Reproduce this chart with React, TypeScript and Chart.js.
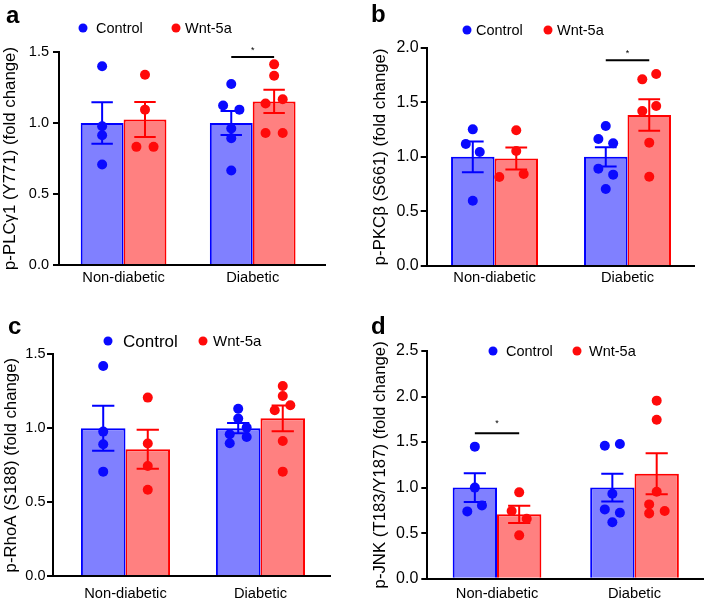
import React, { useEffect, useRef } from "react";
import { Chart, registerables } from "chart.js";

Chart.register(...registerables);

// ---------------- DATA ----------------
const categories = ["Non-diabetic", "Diabetic"];
const seriesNames = ["Control", "Wnt-5a"];

// a: p-PLCγ1
const plcTitle = "p-PLCγ1 (Y771) (fold change)";
const plcYMax = 1.5;
const plcControlMean = [1.0, 1.0];
const plcControlSem = [0.147, 0.085];
const plcWntMean = [1.025, 1.152];
const plcWntSem = [0.123, 0.082];
const plcControlNonDiab = [1.4, 0.977, 0.914, 0.708];
const plcControlNonDiabJitter = [0, 0, 0, 0];
const plcWntNonDiab = [1.34, 1.094, 0.832, 0.832];
const plcWntNonDiabJitter = [0, 0, -0.2, 0.2];
const plcControlDiab = [1.275, 1.123, 1.094, 0.961, 0.893, 0.666];
const plcControlDiabJitter = [0, -0.19, 0.19, 0, 0, 0];
const plcWntDiab = [1.413, 1.333, 1.137, 1.167, 0.93, 0.93];
const plcWntDiabJitter = [0, 0, -0.2, 0.2, -0.2, 0.2];
const plcSignificance = [{ group: 1, y: 1.465, label: "*" }];

// b: p-PKCβ
const pkcTitle = "p-PKCβ (S661) (fold change)";
const pkcYMax = 2.0;
const pkcControlMean = [1.0, 1.0];
const pkcControlSem = [0.14, 0.088];
const pkcWntMean = [0.985, 1.383];
const pkcWntSem = [0.1, 0.145];
const pkcControlNonDiab = [1.252, 1.118, 1.044, 0.598];
const pkcControlNonDiabJitter = [0, -0.16, 0.16, 0];
const pkcWntNonDiab = [1.243, 1.053, 0.815, 0.843];
const pkcWntNonDiabJitter = [0, 0, -0.39, 0.17];
const pkcControlDiab = [1.282, 1.163, 1.124, 0.892, 0.837, 0.705];
const pkcControlDiabJitter = [0, -0.17, 0.17, -0.17, 0.17, 0];
const pkcWntDiab = [1.71, 1.759, 1.42, 1.466, 1.13, 0.818];
const pkcWntDiabJitter = [-0.16, 0.16, -0.16, 0.16, 0, 0];
const pkcSignificance = [{ group: 1, y: 1.884, label: "*" }];

// c: p-RhoA
const rhoTitle = "p-RhoA (S188) (fold change)";
const rhoYMax = 1.5;
const rhoControlMean = [1.0, 1.0];
const rhoControlSem = [0.152, 0.035];
const rhoWntMean = [0.857, 1.067];
const rhoWntSem = [0.132, 0.087];
const rhoControlNonDiab = [1.421, 0.977, 0.891, 0.706];
const rhoControlNonDiabJitter = [0, 0, 0, 0];
const rhoWntNonDiab = [1.207, 0.896, 0.744, 0.584];
const rhoWntNonDiabJitter = [0, 0, 0, 0];
const rhoControlDiab = [1.132, 1.065, 1.004, 0.959, 0.941, 0.898];
const rhoControlDiabJitter = [0, 0, 0.19, -0.19, 0.19, -0.19];
const rhoWntDiab = [1.286, 1.218, 1.121, 1.155, 0.914, 0.706];
const rhoWntDiabJitter = [0, 0, -0.18, 0.17, 0, 0];
const rhoSignificance: { group: number; y: number; label: string }[] = [];

// d: p-JNK
const jnkTitle = "p-JNK (T183/Y187) (fold change)";
const jnkYMax = 2.5;
const jnkControlMean = [1.0, 1.0];
const jnkControlSem = [0.158, 0.153];
const jnkWntMean = [0.707, 1.152];
const jnkWntSem = [0.095, 0.225];
const jnkControlNonDiab = [1.45, 1.0, 0.739, 0.805];
const jnkControlNonDiabJitter = [0, 0, -0.17, 0.16];
const jnkWntNonDiab = [0.948, 0.743, 0.659, 0.476];
const jnkWntNonDiabJitter = [0, -0.17, 0.17, 0];
const jnkControlDiab = [1.46, 1.479, 0.933, 0.761, 0.725, 0.619];
const jnkControlDiabJitter = [-0.17, 0.17, 0, -0.17, 0.17, 0];
const jnkWntDiab = [1.955, 1.746, 0.955, 0.816, 0.743, 0.717];
const jnkWntDiabJitter = [0, 0, 0, -0.17, 0.18, -0.17];
const jnkSignificance = [{ group: 0, y: 1.596, label: "*" }];

// ---------------- STYLE ----------------
const FONT = "'Liberation Sans', Arial, Helvetica, sans-serif";
const barFill = ["#8080ff", "#ff8080"];
const strokeColor = ["#0000ff", "#ff0000"];
const pointColor = ["#0a0aff", "#ff0a0a"];

type Sig = { group: number; y: number; label: string };
type Panel = {
  letter: string;
  title: string;
  yMax: number;
  means: number[][];
  sems: number[][];
  points: number[][][];
  jitter: number[][][];
  sig: Sig[];
  left: number;
  top: number;
  pad: { left: number; top: number; right: number; bottom: number };
  yW: number;
  xH: number;
  xMin: number;
  xMax: number;
  groupPct: number;
  tickFont: number;
  yTickPad: number;
  xLabelPad: number;
  legendY: number;
  legend: { dot: number; text: number; size: number }[];
  letterX: number;
  letterY: number;
  starGap: number;
};

const panels: Panel[] = [
  {
    letter: "a",
    title: plcTitle,
    yMax: plcYMax,
    means: [plcControlMean, plcWntMean],
    sems: [plcControlSem, plcWntSem],
    points: [
      [plcControlNonDiab, plcControlDiab],
      [plcWntNonDiab, plcWntDiab],
    ],
    jitter: [
      [plcControlNonDiabJitter, plcControlDiabJitter],
      [plcWntNonDiabJitter, plcWntDiabJitter],
    ],
    sig: plcSignificance,
    left: 0,
    top: 0,
    pad: { left: 0, top: 52, right: 29, bottom: 0 },
    yW: 59,
    xH: 36,
    xMin: -0.5,
    xMax: 1.56,
    groupPct: 0.664,
    tickFont: 14.5,
    yTickPad: 4,
    xLabelPad: 4.3,
    legendY: 28,
    legend: [
      { dot: 83, text: 96, size: 14.5 },
      { dot: 176, text: 185, size: 14.5 },
    ],
    letterX: 6,
    letterY: 23,
    starGap: 9,
  },
  {
    letter: "b",
    title: pkcTitle,
    yMax: pkcYMax,
    means: [pkcControlMean, pkcWntMean],
    sems: [pkcControlSem, pkcWntSem],
    points: [
      [pkcControlNonDiab, pkcControlDiab],
      [pkcWntNonDiab, pkcWntDiab],
    ],
    jitter: [
      [pkcControlNonDiabJitter, pkcControlDiabJitter],
      [pkcWntNonDiabJitter, pkcWntDiabJitter],
    ],
    sig: pkcSignificance,
    left: 354,
    top: 0,
    pad: { left: 16, top: 47.7, right: 14, bottom: 0 },
    yW: 56.7,
    xH: 35,
    xMin: -0.51,
    xMax: 1.5,
    groupPct: 0.654,
    tickFont: 16,
    yTickPad: 2,
    xLabelPad: 3.3,
    legendY: 30,
    legend: [
      { dot: 113, text: 122, size: 14.5 },
      { dot: 194, text: 203, size: 14.5 },
    ],
    letterX: 17,
    letterY: 22,
    starGap: 10,
  },
  {
    letter: "c",
    title: rhoTitle,
    yMax: rhoYMax,
    means: [rhoControlMean, rhoWntMean],
    sems: [rhoControlSem, rhoWntSem],
    points: [
      [rhoControlNonDiab, rhoControlDiab],
      [rhoWntNonDiab, rhoWntDiab],
    ],
    jitter: [
      [rhoControlNonDiabJitter, rhoControlDiabJitter],
      [rhoWntNonDiabJitter, rhoWntDiabJitter],
    ],
    sig: rhoSignificance,
    left: 0,
    top: 301,
    pad: { left: 1, top: 53.3, right: 24, bottom: 0 },
    yW: 52,
    xH: 26,
    xMin: -0.537,
    xMax: 1.515,
    groupPct: 0.66,
    tickFont: 14.5,
    yTickPad: 1.5,
    xLabelPad: 9.2,
    legendY: 40,
    legend: [
      { dot: 108, text: 123, size: 17 },
      { dot: 203, text: 213, size: 15 },
    ],
    letterX: 8,
    letterY: 33,
    starGap: 10,
  },
  {
    letter: "d",
    title: jnkTitle,
    yMax: jnkYMax,
    means: [jnkControlMean, jnkWntMean],
    sems: [jnkControlSem, jnkWntSem],
    points: [
      [jnkControlNonDiab, jnkControlDiab],
      [jnkWntNonDiab, jnkWntDiab],
    ],
    jitter: [
      [jnkControlNonDiabJitter, jnkControlDiabJitter],
      [jnkWntNonDiabJitter, jnkWntDiabJitter],
    ],
    sig: jnkSignificance,
    left: 354,
    top: 301,
    pad: { left: 16, top: 50, right: 0, bottom: 0 },
    yW: 57.3,
    xH: 23.3,
    xMin: -0.507,
    xMax: 1.498,
    groupPct: 0.645,
    tickFont: 16,
    yTickPad: 3,
    xLabelPad: 6.5,
    legendY: 50,
    legend: [
      { dot: 139, text: 152, size: 14.5 },
      { dot: 223, text: 235, size: 14.5 },
    ],
    letterX: 17,
    letterY: 33,
    starGap: 13,
  },
];

function makeConfig(p: Panel): any {
  const barW = p.groupPct / 2;
  const scatterData = (s: number) => {
    const out: { x: number; y: number }[] = [];
    p.points[s].forEach((vals, g) => {
      vals.forEach((y, k) => {
        const center = g + (s === 0 ? -1 : 1) * (p.groupPct / 4);
        out.push({ x: center + p.jitter[s][g][k] * barW, y });
      });
    });
    return out;
  };

  const overlay = {
    id: "overlay",
    afterDatasetDraw(chart: any, args: any) {
      const meta = args.meta;
      if (meta.type !== "bar") return;
      const s = args.index - 2;
      const ctx = chart.ctx;
      const yScale = chart.scales.y;
      ctx.save();
      ctx.strokeStyle = strokeColor[s];
      ctx.lineWidth = 2;
      meta.data.forEach((el: any, j: number) => {
        const m = p.means[s][j];
        const e = p.sems[s][j];
        const yt = yScale.getPixelForValue(m + e);
        const yb = yScale.getPixelForValue(m - e);
        const cap = el.width / 4;
        ctx.beginPath();
        ctx.moveTo(el.x, yb);
        ctx.lineTo(el.x, yt);
        ctx.moveTo(el.x - cap, yt);
        ctx.lineTo(el.x + cap, yt);
        ctx.moveTo(el.x - cap, yb);
        ctx.lineTo(el.x + cap, yb);
        ctx.stroke();
      });
      ctx.restore();
    },
    afterDraw(chart: any) {
      const ctx = chart.ctx;
      const yScale = chart.scales.y;
      ctx.save();
      p.sig.forEach((sg) => {
        const a = chart.getDatasetMeta(2).data[sg.group];
        const b = chart.getDatasetMeta(3).data[sg.group];
        const y = yScale.getPixelForValue(sg.y);
        ctx.strokeStyle = "#000";
        ctx.lineWidth = 2;
        ctx.beginPath();
        ctx.moveTo(a.x, y);
        ctx.lineTo(b.x, y);
        ctx.stroke();
        const fs = 9;
        ctx.font = `${fs}px ${FONT}`;
        ctx.fillStyle = "#000";
        ctx.textAlign = "center";
        ctx.textBaseline = "alphabetic";
        ctx.fillText(sg.label, (a.x + b.x) / 2, y - p.starGap + 0.58 * fs);
      });
      p.legend.forEach((lg, s) => {
        ctx.fillStyle = pointColor[s];
        ctx.beginPath();
        ctx.arc(lg.dot, p.legendY, 4.5, 0, Math.PI * 2);
        ctx.fill();
        ctx.fillStyle = "#000";
        ctx.font = `${lg.size}px ${FONT}`;
        ctx.textAlign = "left";
        ctx.textBaseline = "middle";
        ctx.fillText(seriesNames[s], lg.text, p.legendY + 1);
      });
      ctx.fillStyle = "#000";
      ctx.font = `bold 24px ${FONT}`;
      ctx.textAlign = "left";
      ctx.textBaseline = "alphabetic";
      ctx.fillText(p.letter, p.letterX, p.letterY);
      ctx.restore();
    },
  };

  return {
    type: "bar",
    data: {
      datasets: [
        {
          type: "scatter",
          label: seriesNames[0],
          data: scatterData(0),
          pointRadius: 5,
          pointBorderWidth: 0,
          pointBackgroundColor: pointColor[0],
          backgroundColor: pointColor[0],
          showLine: false,
        },
        {
          type: "scatter",
          label: seriesNames[1],
          data: scatterData(1),
          pointRadius: 5,
          pointBorderWidth: 0,
          pointBackgroundColor: pointColor[1],
          backgroundColor: pointColor[1],
          showLine: false,
        },
        {
          type: "bar",
          label: seriesNames[0],
          data: p.means[0].map((y, g) => ({ x: g, y })),
          backgroundColor: barFill[0],
          borderColor: strokeColor[0],
          borderWidth: 2,
          categoryPercentage: p.groupPct,
          barPercentage: 1,
        },
        {
          type: "bar",
          label: seriesNames[1],
          data: p.means[1].map((y, g) => ({ x: g, y })),
          backgroundColor: barFill[1],
          borderColor: strokeColor[1],
          borderWidth: 2,
          categoryPercentage: p.groupPct,
          barPercentage: 1,
        },
      ],
    },
    options: {
      responsive: false,
      animation: false,
      events: [],
      layout: { padding: p.pad },
      plugins: {
        legend: { display: false },
        tooltip: { enabled: false },
        title: { display: false },
      },
      scales: {
        x: {
          type: "linear",
          min: p.xMin,
          max: p.xMax,
          offset: false,
          grid: { display: false, drawTicks: false, offset: false },
          border: { display: true, color: "#000", width: 2 },
          ticks: {
            autoSkip: false,
            maxRotation: 0,
            padding: p.xLabelPad,
            color: "#000",
            font: { size: 14.7, family: FONT },
            callback: (v: any) => categories[v] ?? "",
          },
          afterBuildTicks: (s: any) => {
            s.ticks = categories.map((_, i) => ({ value: i }));
          },
          afterFit: (s: any) => {
            s.height = p.xH;
          },
        },
        y: {
          min: 0,
          max: p.yMax,
          ticks: {
            stepSize: 0.5,
            padding: p.yTickPad,
            color: "#000",
            font: { size: p.tickFont, family: FONT },
            callback: (v: any) => Number(v).toFixed(1),
          },
          grid: {
            display: true,
            drawOnChartArea: false,
            drawTicks: true,
            tickLength: 6,
            color: "#000",
            lineWidth: 2,
          },
          border: { display: true, color: "#000", width: 2 },
          title: {
            display: true,
            text: p.title,
            color: "#000",
            font: { size: 16.8, family: FONT },
            padding: { top: 0, bottom: 0 },
          },
          afterFit: (s: any) => {
            s.width = p.yW;
          },
        },
      },
    },
    plugins: [overlay],
  };
}

function PanelChart({ p }: { p: Panel }) {
  const ref = useRef<HTMLCanvasElement>(null);
  useEffect(() => {
    const chart = new Chart(ref.current as HTMLCanvasElement, makeConfig(p));
    return () => chart.destroy();
  }, [p]);
  return (
    <div style={{ position: "absolute", left: p.left, top: p.top, width: 354, height: 301 }}>
      <canvas ref={ref} width={354} height={301} style={{ display: "block" }} />
    </div>
  );
}

export default function App() {
  Chart.defaults.font.family = FONT;
  return (
    <div style={{ position: "absolute", left: 0, top: 0, width: 708, height: 602, background: "#fff" }}>
      {panels.map((p) => (
        <PanelChart key={p.letter} p={p} />
      ))}
    </div>
  );
}
